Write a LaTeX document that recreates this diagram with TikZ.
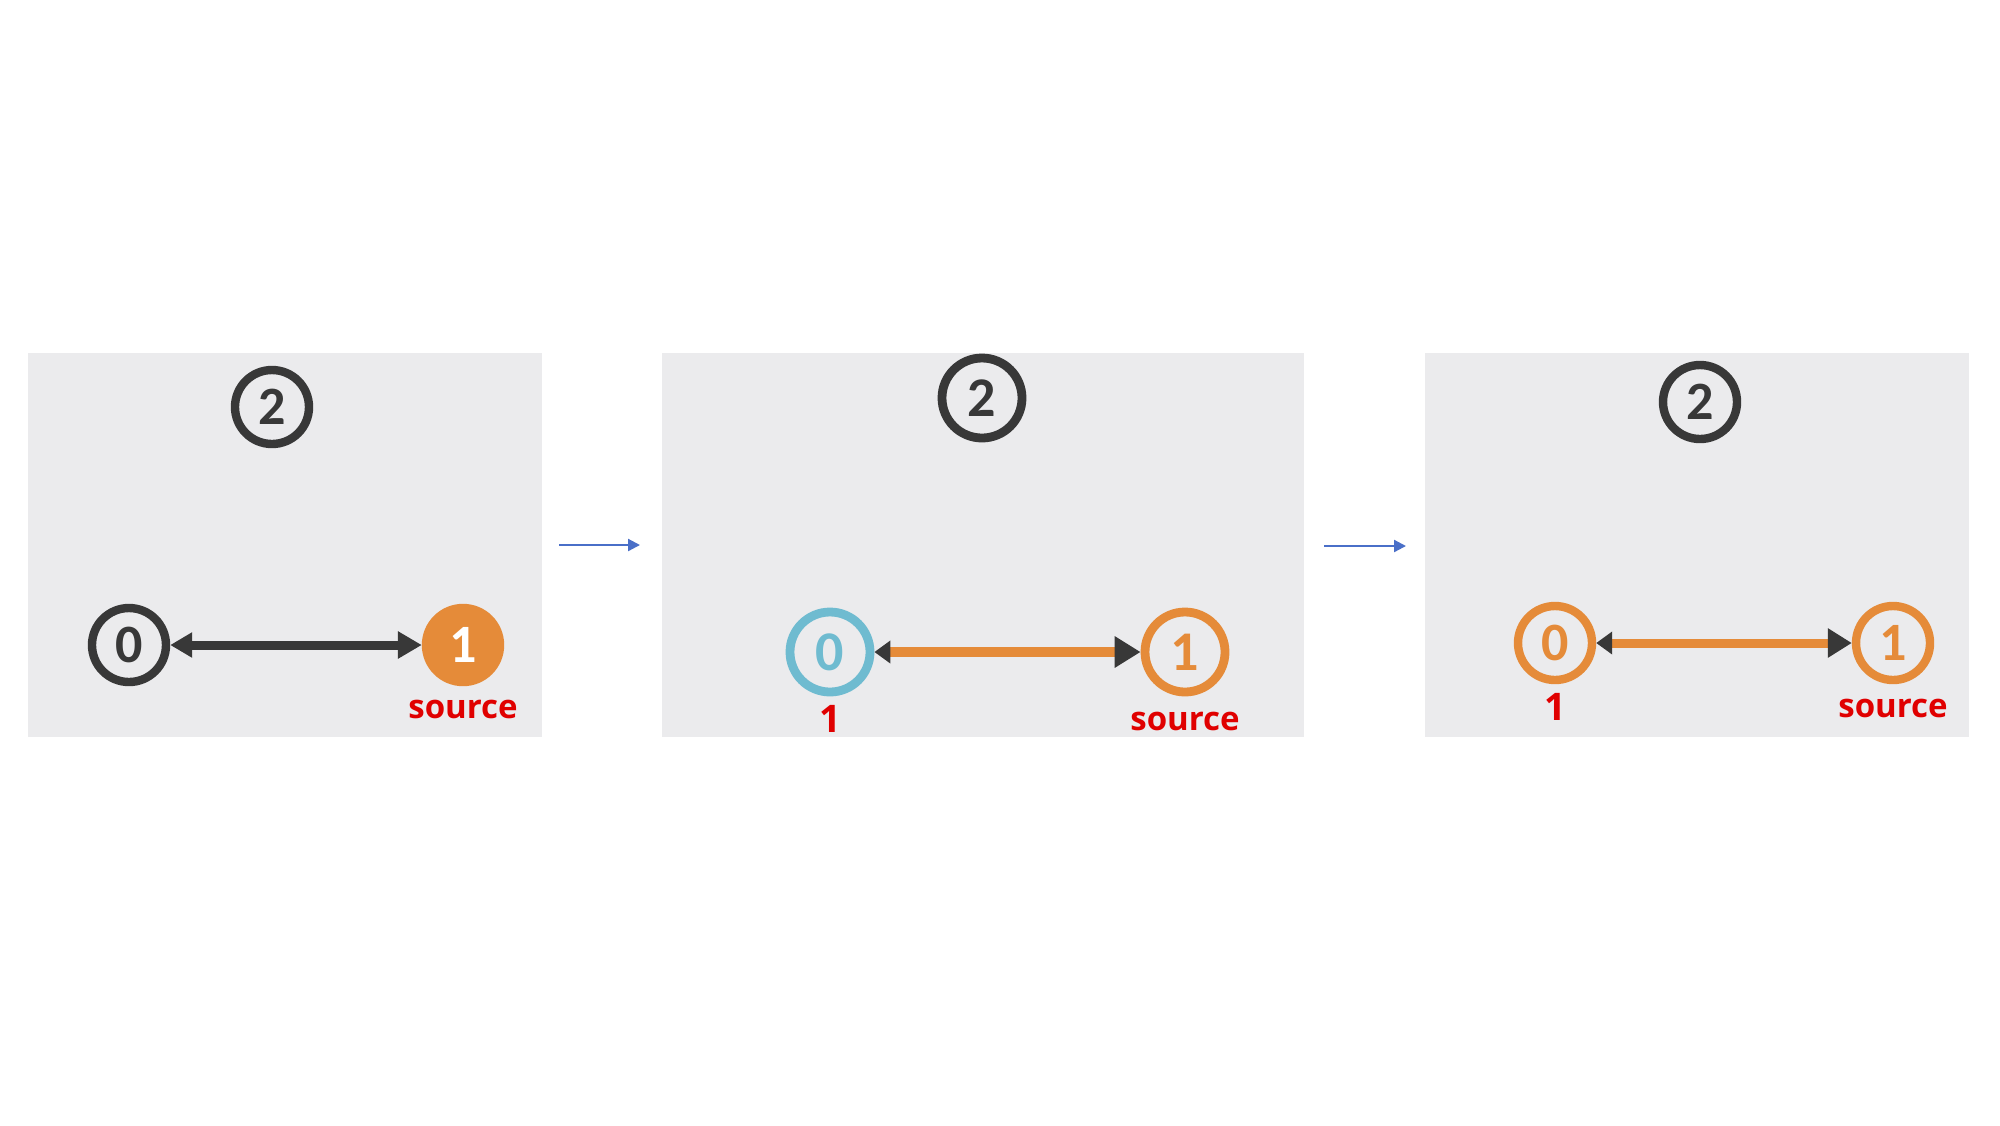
\documentclass[tikz,border=0pt]{standalone}
\usepackage{fontspec}
\setmainfont{Open Sans}
\newfontfamily\digits{Carlito}
\usetikzlibrary{arrows.meta}
\definecolor{panelbg}{HTML}{EBEBED}
\definecolor{dk}{HTML}{383838}
\definecolor{org}{HTML}{E58B39}
\definecolor{cyn}{HTML}{6FBBD0}
\definecolor{lbl}{HTML}{E00000}
\definecolor{flow}{HTML}{4A6FC8}
\tikzset{
  vtx/.style={circle,line width=4.2pt,minimum size=37pt,inner sep=0pt,font=\digits\bfseries\fontsize{27}{27}\selectfont},
  vbig/.style={vtx,minimum size=40pt,line width=4.4pt,font=\digits\bfseries\fontsize{28}{28}\selectfont},
  lab/.style={text=lbl,font=\bfseries\fontsize{16.5}{16.5}\selectfont,inner sep=0pt},
  numlab/.style={lab,font=\bfseries\fontsize{19}{19}\selectfont},
  panel/.style={fill=panelbg,draw=none},
  flowarrow/.style={draw=flow,line width=1.1pt,-{Triangle[length=6pt,width=6pt]}},
}
\begin{document}
\begin{tikzpicture}[x=0.5pt,y=-0.5pt]
\useasboundingbox (0,0) rectangle (2000,1125);
\fill[white] (0,0) rectangle (2000,1125);
% panels
\path[panel] (28,353) rectangle (542,737);
\path[panel] (662,353) rectangle (1304,737);
\path[panel] (1425,353) rectangle (1969,737);
% flow arrows
\coordinate (f1a) at (559,545);
\coordinate (f1b) at (640,545);
\coordinate (f2a) at (1324,546);
\coordinate (f2b) at (1406,546);
\draw[flowarrow] (f1a) -- (f1b);
\draw[flowarrow] (f2a) -- (f2b);
% panel 1
\node[vtx,draw=dk,text=dk] (a2) at (272,407) {2};
\node[vtx,draw=dk,text=dk] (a0) at (129,645) {0};
\node[vtx,fill=org,draw=org,text=white] (a1) at (463,645) {1};
\node[lab] (as) at (463,709) {source};
\draw[dk,line width=4.5pt,{Triangle[length=11pt,width=12pt]}-{Triangle[length=12pt,width=13pt]}] (a0) -- (a1);
% panel 2
\node[vbig,draw=dk,text=dk] (b2) at (982,398) {2};
\node[vbig,draw=cyn,text=cyn] (b0) at (830,652) {0};
\node[vbig,draw=org,text=org] (b1) at (1185,652) {1};
\node[numlab] (bl) at (830,719) {1};
\node[lab] (bs) at (1185,721) {source};
\draw[org,line width=4.8pt,{Triangle[length=8pt,width=11pt,color=dk]}-{Triangle[length=13pt,width=15pt,color=dk]}] (b0) -- (b1);
% panel 3
\node[vtx,draw=dk,text=dk] (c2) at (1700,402) {2};
\node[vtx,draw=org,text=org] (c0) at (1555,643) {0};
\node[vtx,draw=org,text=org] (c1) at (1893,643) {1};
\node[numlab] (cl) at (1555,707) {1};
\node[lab] (cs) at (1893,708) {source};
\draw[org,line width=4.5pt,{Triangle[length=8pt,width=11pt,color=dk]}-{Triangle[length=12pt,width=14pt,color=dk]}] (c0) -- (c1);
\end{tikzpicture}
\end{document}
